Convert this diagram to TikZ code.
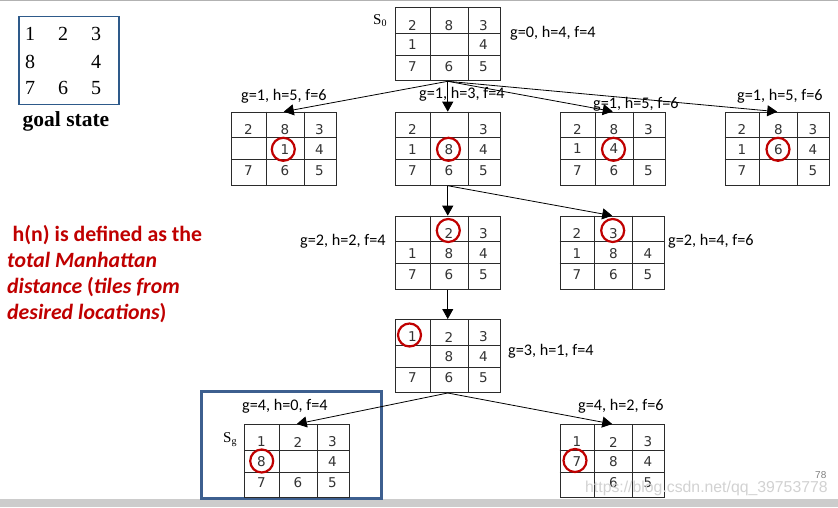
\documentclass[tikz,border=0pt]{standalone}
\usepackage{fontspec}
\setmainfont{Carlito}
\newfontfamily\serifrm{Liberation Serif}
\newfontfamily\digfont{DejaVu Sans}
\newfontfamily\wmfont{Liberation Sans}
\usetikzlibrary{arrows.meta,calc}
\definecolor{dkred}{HTML}{C00000}
\definecolor{gridcol}{HTML}{2B2B2B}
\definecolor{digcol}{HTML}{333333}
\definecolor{boxblue}{HTML}{3D5F8F}
\definecolor{goalblue}{HTML}{2E5A8A}
\tikzset{
  gridbox/.style={rectangle, draw=gridcol, line width=1pt, minimum width=104.5pt, minimum height=73pt, inner sep=0pt},
  gridline/.style={draw=gridcol, line width=1pt},
  digit/.style={inner sep=0pt, text=digcol, font=\digfont\fontsize{13.5}{13.5}\selectfont},
  rc/.style={circle, draw=dkred, line width=2.2pt, minimum size=23pt, inner sep=0pt},
  arr/.style={line width=0.8pt, -{Triangle[length=10pt,width=11pt]}},
  lab/.style={anchor=west, inner sep=0pt, font=\fontsize{16.2}{18}\selectfont},
  redtxt/.style={anchor=base west, inner sep=0pt, text=dkred, font=\bfseries\fontsize{21.8}{24}\selectfont},
  goaldig/.style={inner sep=0pt, font=\serifrm\fontsize{20}{20}\selectfont},
}
\newcommand{\pgrid}[4]{%
  \node[gridbox,anchor=north west] (#1) at (#2,#3) {};
  \draw[gridline] ($(#1.north west)+(35,0)$) -- ($(#1.south west)+(35,0)$)
    ($(#1.north west)+(73,0)$) -- ($(#1.south west)+(73,0)$)
    ($(#1.north west)+(0,26)$) -- ($(#1.north east)+(0,26)$)
    ($(#1.north west)+(0,48)$) -- ($(#1.north east)+(0,48)$);
  \foreach \d [count=\i from 0] in {#4} {
    \pgfmathsetmacro\cx{{17.5,54,88.5}[mod(\i,3)]}
    \pgfmathsetmacro\cy{{18,37.5,59}[div(\i,3)]}
    \node[digit] (#1-\i) at ($(#1.north west)+(\cx,\cy)$) {\d};
  }
}
\begin{document}
\begin{tikzpicture}[x=1pt,y=-1pt]
\useasboundingbox (0,0) rectangle (838,507);
\fill[white] (0,0) rectangle (838,507);
% top thin line and bottom gray bar
\draw[gray!60, line width=1pt] (0,0.5) -- (838,0.5);
\fill[gray!40] (0,498.5) rectangle (838,507);

% goal state
\node[rectangle, draw=goalblue, line width=1.2pt, minimum width=100pt, minimum height=88pt, inner sep=0pt, anchor=north west] (goal) at (18.3,16) {};
\node[goaldig] (g1) at (30,34) {1};
\node[goaldig] (g2) at (63,34) {2};
\node[goaldig] (g3) at (96,34) {3};
\node[goaldig] (g4) at (30,61.5) {8};
\node[goaldig] (g5) at (96,61.5) {4};
\node[goaldig] (g6) at (30,88) {7};
\node[goaldig] (g7) at (63,88) {6};
\node[goaldig] (g8) at (96,88) {5};
\node[inner sep=0pt, font=\serifrm\bfseries\fontsize{21.5}{22}\selectfont] (goallab) at (66,121) {goal state};

% red explanation text
\node[redtxt] (t1) at (12.5,241) {h(n) is defined as the};
\node[redtxt] (t2) at (7,267.5) {\itshape total Manhattan};
\node[redtxt] (t3) at (7,293.5) {\itshape distance \upshape(\itshape tiles from};
\node[redtxt] (t4) at (7,319.5) {\itshape desired locations\upshape)};

% blue frame round the goal node
\node[rectangle, draw=boxblue, line width=2.5pt, minimum width=180pt, minimum height=107pt, inner sep=0pt, anchor=north west] (frame) at (200,390) {};

% grids
\pgrid{R}{395}{7.3}{2,8,3,1,{},4,7,6,5}
\pgrid{A}{231}{111.7}{2,8,3,{},1,4,7,6,5}
\pgrid{B}{395}{111.7}{2,{},3,1,8,4,7,6,5}
\pgrid{C}{560}{111.5}{2,8,3,1,4,{},7,6,5}
\pgrid{D}{724.5}{111.7}{2,8,3,1,6,4,7,{},5}
\pgrid{E}{395}{215.7}{{},2,3,1,8,4,7,6,5}
\pgrid{F}{559.5}{215.7}{2,3,{},1,8,4,7,6,5}
\pgrid{G}{395}{319}{1,2,3,{},8,4,7,6,5}
\pgrid{H}{244}{424}{1,2,3,8,{},4,7,6,5}
\pgrid{I}{559.5}{424}{1,2,3,7,8,4,{},6,5}

% red circles
\node[rc] (cA) at (283.3,149.3) {};
\node[rc] (cB) at (448.5,149.3) {};
\node[rc] (cC) at (613.5,149.3) {};
\node[rc] (cD) at (778,149.3) {};
\node[rc] (cE) at (448.3,230.5) {};
\node[rc] (cF) at (612.7,230.5) {};
\node[rc] (cG) at (409.5,335) {};
\node[rc] (cH) at (261.7,461) {};
\node[rc] (cI) at (575,460.5) {};

% state names
\node[anchor=base west, inner sep=0pt, font=\serifrm\fontsize{15}{15}\selectfont] (s0) at (373,24) {S\raisebox{-2pt}{\fontsize{10}{10}\selectfont 0}};
\node[anchor=base west, inner sep=0pt, font=\serifrm\fontsize{15}{15}\selectfont] (sg) at (223,442) {S\raisebox{-2pt}{\fontsize{10}{10}\selectfont g}};

% arrows
\draw[arr] (R.south) -- (A.north);
\draw[arr] (R.south) -- (B.north);
\draw[arr] (R.south) -- (C.north);
\draw[arr] (R.south) -- (D.north);
\draw[arr] (B.south) -- (E.north);
\draw[arr] (B.south) -- (F.north);
\draw[arr] (E.south) -- (G.north);
\draw[arr] (G.south) -- (H.north);
\draw[arr] (G.south) -- (I.north);

% labels
\node[lab] (lR) at (510,33) {g=0, h=4, f=4};
\node[lab] (lA) at (241,96) {g=1, h=5, f=6};
\node[lab] (lB) at (419,94) {g=1, h=3, f=4};
\node[lab] (lC) at (593,104) {g=1, h=5, f=6};
\node[lab] (lD) at (737,96) {g=1, h=5, f=6};
\node[lab] (lE) at (300,241.7) {g=2, h=2, f=4};
\node[lab] (lF) at (668,241) {g=2, h=4, f=6};
\node[lab] (lG) at (508,351.7) {g=3, h=1, f=4};
\node[lab] (lH) at (242,406.7) {g=4, h=0, f=4};
\node[lab] (lI) at (578,406.7) {g=4, h=2, f=6};

% page number and watermark
\node[anchor=west, inner sep=0pt, text=gray, font=\wmfont\fontsize{10}{10}\selectfont] (pg) at (815,475) {78};
\node[anchor=west, inner sep=0pt, text=gray!35, font=\wmfont\fontsize{15.8}{16}\selectfont] (wm) at (585,488.5) {https://blog.csdn.net/qq\_39753778};
\end{tikzpicture}
\end{document}
